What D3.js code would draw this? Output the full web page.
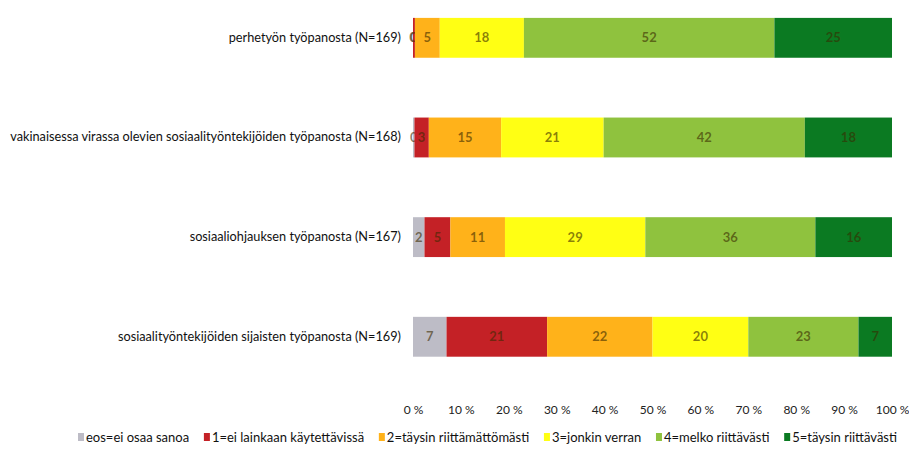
<!DOCTYPE html>
<html>
<head>
<meta charset="utf-8">
<title>Työpanos</title>
<script src="https://d3js.org/d3.v7.min.js"></script>
<style>
body { margin:0; background:#fff; }
text { font-family: Lato, "Open Sans", sans-serif; }
</style>
</head>
<body>
<div id="chart"></div>
<script>

// categories, top to bottom
var categories = [
  "perhetyön työpanosta (N=169)",
  "vakinaisessa virassa olevien sosiaalityöntekijöiden työpanosta (N=168)",
  "sosiaaliohjauksen työpanosta (N=167)",
  "sosiaalityöntekijöiden sijaisten työpanosta (N=169)"
];

var seriesNames = ["eos=ei osaa sanoa", "1=ei lainkaan käytettävissä", "2=täysin riittämättömästi",
                   "3=jonkin verran", "4=melko riittävästi", "5=täysin riittävästi"];
var seriesColors = ["#bdbcc6", "#c42126", "#ffb21a", "#ffff14", "#8fc23e", "#0b7a22"];

// percent per series, one value per category (same order as categories)
var eos   = [0,    0.3,  2.4,  7];
var ei    = [0.4,  3.0,  5.4,  21];
var tays  = [5.2,  15.1, 11.4, 22];
var jonk  = [17.6, 21.4, 29.3, 20];
var melko = [52.4, 42.0, 35.5, 23];
var riit  = [24.6, 18.2, 16.0, 7];

var tickLabels = ["0 %","10 %","20 %","30 %","40 %","50 %","60 %","70 %","80 %","90 %","100 %"];

var W = 909, H = 455;
var left = 413, right = 892;

var rows = categories.map(function(c, i){
  return {cat:c, s0:eos[i], s1:ei[i], s2:tays[i], s3:jonk[i], s4:melko[i], s5:riit[i]};
});
var keys = ["s0","s1","s2","s3","s4","s5"];

var stacked = d3.stack().keys(keys).offset(d3.stackOffsetExpand)(rows);

var x = d3.scaleLinear().domain([0, 1]).range([left, right]);
var y = d3.scaleBand().domain(categories).range([-12, 386.6]).paddingInner(0.6).paddingOuter(0.3);

var svg = d3.select("#chart").append("svg")
  .attr("width", W).attr("height", H);

var layer = svg.selectAll("g.layer").data(stacked).enter().append("g")
  .attr("class","layer")
  .attr("fill", function(d,i){ return seriesColors[i]; });

layer.selectAll("rect").data(function(d){ return d; }).enter().append("rect")
  .attr("x", function(d){ return x(d[0]); })
  .attr("y", function(d){ return y(d.data.cat); })
  .attr("width", function(d){ return x(d[1]) - x(d[0]); })
  .attr("height", y.bandwidth());

// value labels
layer.selectAll("text").data(function(d){ return d.map(function(p){ p.key = d.key; return p; }); })
  .enter().append("text")
  .attr("x", function(d){ return (x(d[0]) + x(d[1])) / 2; })
  .attr("y", function(d){ return y(d.data.cat) + y.bandwidth()/2 + 4.5; })
  .attr("text-anchor","middle")
  .attr("font-size","13px")
  .attr("font-weight","bold")
  .attr("fill","#3a2a00")
  .attr("fill-opacity", 0.6)
  .text(function(d){ return Math.round(d.data[d.key]); });

// category labels, sized so the longest ends up ~391px wide like the original
var cats = svg.selectAll("text.cat").data(categories).enter().append("text")
  .attr("class","cat")
  .attr("x", 401)
  .attr("y", function(d){ return y(d) + y.bandwidth()/2 + 4; })
  .attr("text-anchor","end")
  .attr("font-size","13px")
  .attr("fill","#111")
  .text(function(d){ return d; });
var longest = d3.max(cats.nodes(), function(n){ return n.getComputedTextLength(); });
cats.attr("font-size", (13 * 391 / longest).toFixed(2) + "px");

// x axis, labels only
var axisX = d3.axisBottom(x).tickValues(d3.range(0, 1.01, 0.1)).tickSize(0)
  .tickFormat(function(d,i){ return tickLabels[i]; });
var ax = svg.append("g").attr("transform","translate(0,402)").call(axisX);
ax.select(".domain").remove();
ax.selectAll("text").attr("font-size","12px").attr("fill","#222")
  .style("font-family", 'Lato, "Open Sans", sans-serif');

// legend, spread between x=78 and x=897
var legend = svg.append("g").attr("transform","translate(0,442)");
var items = seriesNames.map(function(name, i){
  var g = legend.append("g");
  g.append("rect").attr("y", -9).attr("width", 6).attr("height", 8).attr("fill", seriesColors[i]);
  var t = g.append("text").attr("x", 8).attr("y", 0)
    .attr("font-size","13px").attr("fill","#111").text(name);
  return {g:g, w: 8 + t.node().getComputedTextLength()};
});
var total = d3.sum(items, function(d){ return d.w; });
var gap = (897 - 78 - total) / (items.length - 1);
var lx = 78;
items.forEach(function(it){
  it.g.attr("transform", "translate(" + lx + ",0)");
  lx += it.w + gap;
});

</script>
</body>
</html>
